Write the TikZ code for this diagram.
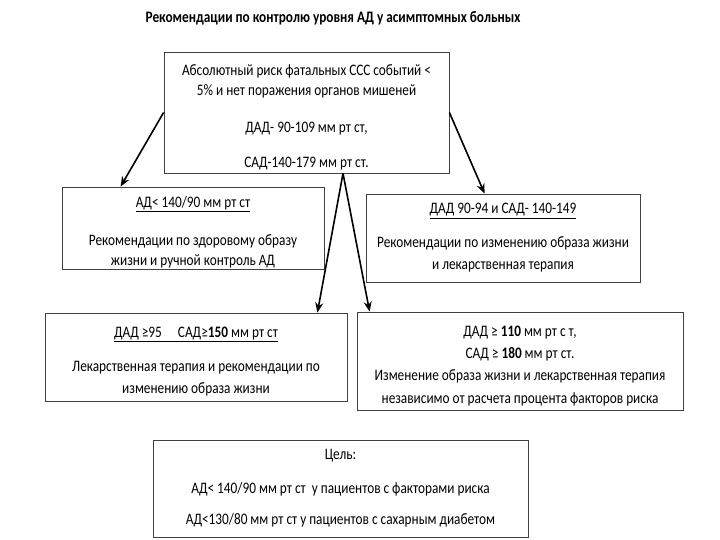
\documentclass[tikz,border=0pt]{standalone}
\usepackage{fontspec}
\setmainfont{Carlito}[FakeStretch=0.83]
\usepackage{tikz}
\usetikzlibrary{positioning,arrows.meta,calc}

\newcommand{\dnline}[1]{\rule{0pt}{#1}}

\begin{document}
\begin{tikzpicture}[x=1pt,y=-1pt,
        every node/.style={font=\fontsize{16}{20}\selectfont},
        box/.style={draw=black!75,line width=0.8pt,align=center,inner sep=0pt},
        arr/.style={line width=1.6pt,-{Stealth[length=10pt,width=8pt]}}]
        \useasboundingbox (0,0) rectangle (720,540);
        \node[font=\fontsize{16}{20}\bfseries] (title) at (333,18) {Рекомендации по контролю уровня АД у асимптомных больных};
        \node[box,minimum width=285pt,minimum height=121pt] (risk) at (306.5,112.5)
            {\dnline{20pt}Абсолютный риск фатальных ССС событий <\\ 5\% и нет поражения органов мишеней\\[17pt]
             ДАД- 90-109 мм рт ст,\\[15pt] САД-140-179 мм рт ст.};
        \node[box,minimum width=262pt,minimum height=82pt] (low) at (193,228)
            {\dnline{20pt}\underline{АД< 140/90 мм рт ст}\\[18pt] Рекомендации по здоровому образу\\ жизни и ручной контроль АД};
        \node[box,minimum width=274pt,minimum height=88pt] (mid) at (503,238)
            {\underline{ДАД 90-94 и САД- 140-149}\\[14pt] Рекомендации по изменению образа жизни\\[2pt] и лекарственная терапия};
        \node[box,minimum width=302pt,minimum height=88pt] (high) at (196,357)
            {\dnline{20pt}\underline{ДАД ≥95\quad САД≥\textbf{150} мм рт ст}\\[14pt] Лекарственная терапия и рекомендации по\\[2pt] изменению образа жизни};
        \node[box,minimum width=326pt,minimum height=98pt] (top) at (520,361)
            {\dnline{20pt}ДАД ≥ \textbf{110} мм рт с т,\\[2pt] САД ≥ \textbf{180} мм рт ст.\\[2pt]
             Изменение образа жизни и лекарственная терапия\\[3pt] независимо от расчета процента факторов риска};
        \node[box,minimum width=375pt,minimum height=97pt] (goal) at (340.5,488.5)
            {Цель:\\[14pt] АД< 140/90 мм рт ст \ у пациентов с факторами риска\\[11pt] АД<130/80 мм рт ст у пациентов с сахарным диабетом};
        \draw[arr] (risk.west) -- ([xshift=59pt]low.north west);
        \draw[arr] (risk.east) -- ([xshift=119pt]mid.north west);
        \draw[arr] ([xshift=36.5pt]risk.south) -- ([xshift=-30pt]high.north east);
        \draw[arr] ([xshift=36.5pt]risk.south) -- ([xshift=13pt]top.north west);
    \end{tikzpicture}
\end{document}
